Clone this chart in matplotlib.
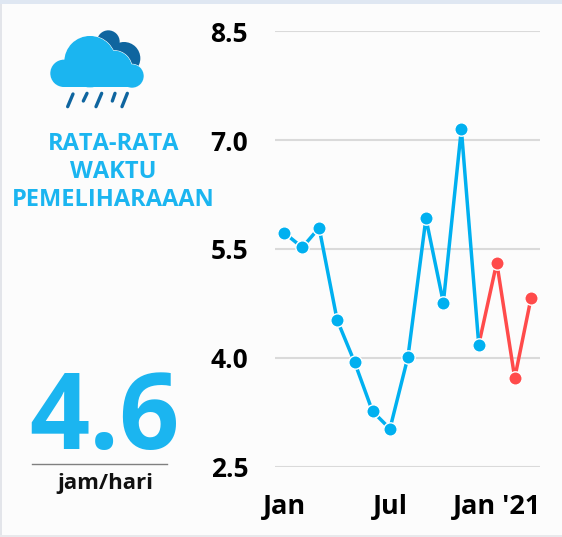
import matplotlib
matplotlib.use("Agg")
import matplotlib.pyplot as plt
import matplotlib.dates as mdates
import numpy as np
import pandas as pd
from matplotlib.patches import Circle, Rectangle

months = pd.date_range("2020-01-01", "2021-03-01", freq="MS")
values = [5.72, 5.52, 5.79, 4.52, 3.94, 3.26, 3.02, 4.01, 5.92, 4.76, 7.15, 4.18, 5.31, 3.72, 4.82]
n_actual = 12
y_ticks = [2.5, 4.0, 5.5, 7.0, 8.5]
y_labels = ["2.5", "4.0", "5.5", "7.0", "8.5"]
x_ticks = pd.to_datetime(["2020-01-01", "2020-07-01", "2021-01-01"])
x_labels = ["Jan", "Jul", "Jan '21"]
title_lines = ["RATA-RATA", "WAKTU", "PEMELIHARAAAN"]
big_value = "4.6"
unit = "jam/hari"

W, H = 562, 537
FONT = "Open Sans"
BLUE_TEXT = "#1BB5F0"
BLUE = "#00B0F0"
RED = "#FF4B4B"
DARK = "#0F659F"

plt.rcParams["font.family"] = [FONT, "DejaVu Sans"]
plt.rcParams["text.kerning_factor"] = 6
fig = plt.figure(figsize=(W / 100, H / 100), dpi=100, facecolor="#FCFCFC")

# overlay in pixel coordinates
bg = fig.add_axes([0, 0, 1, 1])
bg.set_xlim(0, W)
bg.set_ylim(H, 0)
bg.axis("off")
bg.add_patch(Rectangle((0, 0), W, 4, fc="#DFE7F2", ec="none"))
bg.add_patch(Rectangle((0, 4), 2, H, fc="#E3E5EA", ec="none"))
bg.add_patch(Rectangle((0, H - 2), W, 2, fc="#E8E9EC", ec="none"))

# cloud icon (reference zoom coordinates / 3)
lobes = [(192, 220, 41), (396, 228, 35), (270, 185, 77), (342, 206, 54)]
for cx, cy, r in [(325, 125, 34), (372, 175, 49)]:
    bg.add_patch(Circle((cx / 3, cy / 3), r / 3, fc=DARK, ec="none"))
for cx, cy, r in lobes:
    bg.add_patch(Circle((cx / 3, cy / 3), r / 3, fc=BLUE_TEXT, ec="#FCFCFC", lw=0.8))
for cx, cy, r in lobes:
    bg.add_patch(Circle((cx / 3, cy / 3), r / 3, fc=BLUE_TEXT, ec="none"))
bg.add_patch(Rectangle((192 / 3, 205 / 3), (396 - 192) / 3, 57 / 3, fc=BLUE_TEXT, ec="none"))
for x0, y0, x1, y1 in [(203, 320, 219, 282), (250, 303, 261, 280), (288, 320, 305, 280),
                       (337, 303, 345, 280), (366, 320, 382, 280)]:
    bg.plot([x0 / 3, x1 / 3], [y0 / 3, y1 / 3], color=DARK, lw=2.4, solid_capstyle="round")

for line, y in zip(title_lines, [144, 172, 200]):
    bg.text(113.5, y, line, ha="center", va="center", color=BLUE_TEXT, fontsize=17, fontweight="bold")
bg.text(104, 421, big_value, ha="center", va="center", color=BLUE_TEXT, fontsize=76, fontweight="bold")
bg.plot([32, 167], [464, 464], color="#808080", lw=1.0)
bg.text(105, 483, unit, ha="center", va="center", color="#111111", fontsize=16, fontweight="bold")

# main chart
L, R, T, B = 275.3, 540.3, 31.2, 466.5
ax = fig.add_axes([L / W, 1 - B / H, (R - L) / W, (B - T) / H])
ax.patch.set_alpha(0)
ax.set_ylim(2.5, 8.5)
px_per_day = (531 - 284.3) / (months[-1] - months[0]).days
x0 = mdates.date2num(months[0]) - (284.3 - L) / px_per_day
ax.set_xlim(x0, x0 + (R - L) / px_per_day)
for s in ax.spines.values():
    s.set_visible(False)
ax.set_yticks(y_ticks)
ax.set_yticklabels(y_labels, fontsize=19, fontweight="bold", color="#000000")
ax.set_xticks(mdates.date2num(x_ticks))
ax.set_xticklabels(x_labels, fontsize=19.5, fontweight="bold", color="#000000")
ax.tick_params(length=0)
ax.tick_params(axis="y", pad=19.5)
ax.tick_params(axis="x", pad=20)
ax.grid(axis="y", color="#DADADA", lw=1.5)
ax.set_axisbelow(True)

xs = mdates.date2num(months)
ax.plot(xs[:n_actual], values[:n_actual], color=BLUE, lw=2.5, marker="o", ms=9.6,
        mfc=BLUE, mec="white", mew=1.0, clip_on=False, zorder=3)
ax.plot(xs[n_actual - 1:], values[n_actual - 1:], color=RED, lw=2.5, clip_on=False, zorder=2)
ax.plot(xs[n_actual:], values[n_actual:], ls="none", marker="o", ms=9.6,
        mfc=RED, mec="white", mew=1.0, clip_on=False, zorder=3)

fig.savefig("out.png", dpi=100, facecolor=fig.get_facecolor())
